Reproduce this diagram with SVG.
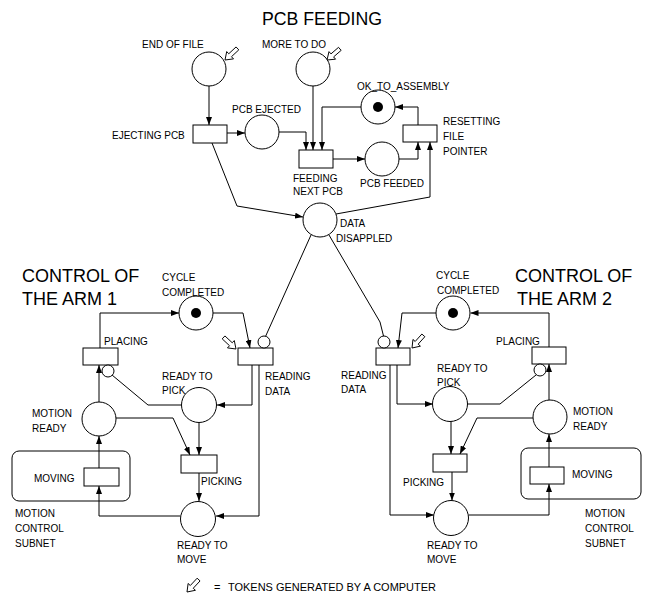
<svg xmlns="http://www.w3.org/2000/svg" width="649" height="599" viewBox="0 0 649 599">
<defs>
<style>
.t{font-family:"Liberation Sans",Arial,sans-serif;font-size:10px;fill:#000}
.big{font-family:"Liberation Sans",Arial,sans-serif;font-size:18px;fill:#000}
.p{fill:#fff;stroke:#000;stroke-width:1}
.tr{fill:#fff;stroke:#000;stroke-width:1}
.inh{fill:#fff;stroke:#000;stroke-width:1}
.tok{fill:#000}
.c{fill:none;stroke:#000;stroke-width:1}
.ca{fill:none;stroke:#000;stroke-width:1;marker-end:url(#ah)}
.sub{fill:none;stroke:#000;stroke-width:1}
.ga{fill:#fff;stroke:#000;stroke-width:0.9}
</style>
<marker id="ah" markerWidth="8" markerHeight="6" refX="8" refY="3" orient="auto" markerUnits="userSpaceOnUse">
<path d="M0,0 L8,3 L0,6 Z" fill="#000"/>
</marker>
<path id="hollow" d="M0,0 L-7,-5 L-7,-2 L-17,-2 L-17,2 L-7,2 L-7,5 Z"/>
</defs>

<rect width="649" height="599" fill="#fff"/>

<g id="connectors">
<path class="ca" d="M209,86 V125"/>
<path class="ca" d="M227,133 H245"/>
<path class="ca" d="M279,132 H306 V150"/>
<path class="ca" d="M313,86 V150"/>
<path class="ca" d="M361,107 H322 V150"/>
<path class="ca" d="M333,159 H365"/>
<path class="ca" d="M399,159 H418 V142"/>
<path class="ca" d="M418,125 V107 H395"/>
<path class="ca" d="M212,143 L237,206 L303,217"/>
<path class="ca" d="M336,214 L430,197 V142"/>
<path class="c" d="M311,235 L265.5,336.5"/>
<path class="c" d="M329,235 L380,322 L383.5,336"/>

<path class="ca" d="M100,348 V313 H179"/>
<path class="ca" d="M213,313 H243 L250,348"/>
<path class="ca" d="M252,365 V405 H217"/>
<path class="ca" d="M259,365 V516 H216"/>
<path class="c" d="M181.5,405 H148 L112,375"/>
<path class="ca" d="M99,402 V365"/>
<path class="ca" d="M116,418 H173 L190,455"/>
<path class="ca" d="M199,422.5 V455"/>
<path class="ca" d="M199,473 V501"/>
<path class="ca" d="M180.5,516 H99 V486"/>
<path class="ca" d="M99,468 V436"/>

<path class="ca" d="M549,347 V313 H470.5"/>
<path class="ca" d="M436,313 H402 L398,348"/>
<path class="ca" d="M397,365 V404 H433"/>
<path class="ca" d="M390,365 V515 H434"/>
<path class="c" d="M467,404 H500 L536,375"/>
<path class="ca" d="M549,400 V364"/>
<path class="ca" d="M533,418 H477 L460,454"/>
<path class="ca" d="M451,421 V454"/>
<path class="ca" d="M452,472 V500.5"/>
<path class="ca" d="M468.5,515 H549 V484"/>
<path class="ca" d="M549,467 V434"/>
</g>

<text class="big" x="262" y="25" textLength="120" lengthAdjust="spacingAndGlyphs">PCB FEEDING</text>

<g id="end_of_file">
<circle class="p" cx="209" cy="69" r="17"/>
<text class="t" x="142" y="48">END OF FILE</text>
<use href="#hollow" class="ga" transform="translate(225,60) rotate(137)"/>
</g>
<g id="more_to_do">
<circle class="p" cx="313" cy="69" r="17"/>
<text class="t" x="262" y="48">MORE TO DO</text>
<use href="#hollow" class="ga" transform="translate(327,60) rotate(139)"/>
</g>
<g id="ok_to_assembly">
<circle class="p" cx="378" cy="107" r="17"/>
<circle class="tok" cx="378" cy="107" r="5"/>
<text class="t" x="357" y="90">OK_TO_ASSEMBLY</text>
</g>
<g id="ejecting_pcb">
<rect class="tr" x="193" y="125" width="34" height="18"/>
<text class="t" x="112" y="139">EJECTING PCB</text>
</g>
<g id="pcb_ejected">
<circle class="p" cx="262" cy="132" r="17"/>
<text class="t" x="232" y="113">PCB EJECTED</text>
</g>
<g id="feeding_next_pcb">
<rect class="tr" x="299" y="150" width="34" height="18"/>
<text class="t" x="293" y="182">FEEDING</text>
<text class="t" x="293" y="195">NEXT PCB</text>
</g>
<g id="pcb_feeded">
<circle class="p" cx="382" cy="159" r="17"/>
<text class="t" x="360" y="187">PCB FEEDED</text>
</g>
<g id="resetting_file_pointer">
<rect class="tr" x="403" y="125" width="34" height="17"/>
<text class="t" x="443" y="125">RESETTING</text>
<text class="t" x="443" y="140">FILE</text>
<text class="t" x="443" y="155">POINTER</text>
</g>
<g id="data_disppled">
<circle class="p" cx="320" cy="220" r="17"/>
<text class="t" x="340" y="227">DATA</text>
<text class="t" x="336" y="242">DISAPPLED</text>
</g>

<text class="big" x="22" y="282">CONTROL OF</text>
<text class="big" x="22" y="305">THE ARM 1</text>

<g id="cycle_completed_1">
<circle class="p" cx="196" cy="313" r="17"/>
<circle class="tok" cx="196" cy="313" r="5"/>
<text class="t" x="162" y="281">CYCLE</text>
<text class="t" x="162" y="296">COMPLETED</text>
</g>
<g id="placing_1">
<rect class="tr" x="83" y="348" width="35" height="17"/>
<circle class="inh" cx="108" cy="371" r="6"/>
<text class="t" x="104" y="345">PLACING</text>
</g>
<g id="reading_data_1">
<rect class="tr" x="238" y="348" width="35" height="17"/>
<circle class="inh" cx="264" cy="342" r="6"/>
<use href="#hollow" class="ga" transform="translate(236,349) rotate(43)"/>
<text class="t" x="265" y="380">READING</text>
<text class="t" x="265" y="395">DATA</text>
</g>
<g id="ready_to_pick_1">
<circle class="p" cx="199" cy="405" r="17.5"/>
<text class="t" x="162" y="380">READY TO</text>
<text class="t" x="162" y="394">PICK</text>
</g>
<g id="motion_ready_1">
<circle class="p" cx="99" cy="419" r="17"/>
<text class="t" x="32" y="417">MOTION</text>
<text class="t" x="32" y="432">READY</text>
</g>
<g id="picking_1">
<rect class="tr" x="181" y="455" width="36" height="18"/>
<text class="t" x="201" y="485">PICKING</text>
</g>
<g id="motion_control_subnet_1">
<rect class="sub" x="12" y="451" width="118" height="50" rx="7"/>
<rect class="tr" x="84" y="468" width="35" height="18"/>
<text class="t" x="34" y="482">MOVING</text>
<text class="t" x="15" y="517">MOTION</text>
<text class="t" x="15" y="532">CONTROL</text>
<text class="t" x="15" y="547">SUBNET</text>
</g>
<g id="ready_to_move_1">
<circle class="p" cx="198" cy="519" r="17.5"/>
<text class="t" x="177" y="549">READY TO</text>
<text class="t" x="177" y="563">MOVE</text>
</g>

<text class="big" x="515" y="282">CONTROL OF</text>
<text class="big" x="517" y="305">THE ARM 2</text>

<g id="cycle_completed_2">
<circle class="p" cx="453" cy="313" r="17"/>
<circle class="tok" cx="453" cy="313" r="5"/>
<text class="t" x="436" y="279">CYCLE</text>
<text class="t" x="437" y="294">COMPLETED</text>
</g>
<g id="reading_data_2">
<rect class="tr" x="376" y="348" width="34" height="17"/>
<circle class="inh" cx="384" cy="342" r="6"/>
<use href="#hollow" class="ga" transform="translate(412,348) rotate(132)"/>
<text class="t" x="341" y="379">READING</text>
<text class="t" x="341" y="393">DATA</text>
</g>
<g id="placing_2">
<rect class="tr" x="532" y="347" width="34" height="17"/>
<circle class="inh" cx="540" cy="370" r="6"/>
<text class="t" x="496" y="345">PLACING</text>
</g>
<g id="ready_to_pick_2">
<circle class="p" cx="450" cy="404" r="17.5"/>
<text class="t" x="437" y="372">READY TO</text>
<text class="t" x="437" y="386">PICK</text>
</g>
<g id="motion_ready_2">
<circle class="p" cx="550" cy="417" r="17"/>
<text class="t" x="573" y="415">MOTION</text>
<text class="t" x="573" y="430">READY</text>
</g>
<g id="picking_2">
<rect class="tr" x="433" y="454" width="34" height="18"/>
<text class="t" x="403" y="486">PICKING</text>
</g>
<g id="motion_control_subnet_2">
<rect class="sub" x="521" y="448" width="120" height="51" rx="7"/>
<rect class="tr" x="530" y="467" width="34" height="17"/>
<text class="t" x="572" y="478">MOVING</text>
<text class="t" x="585" y="517">MOTION</text>
<text class="t" x="585" y="532">CONTROL</text>
<text class="t" x="585" y="547">SUBNET</text>
</g>
<g id="ready_to_move_2">
<circle class="p" cx="451" cy="518" r="17.5"/>
<text class="t" x="427" y="549">READY TO</text>
<text class="t" x="427" y="563">MOVE</text>
</g>

<g id="legend">
<use href="#hollow" class="ga" transform="translate(187,592) rotate(133)"/>
<text class="t" x="214" y="591" style="font-size:11px">=</text>
<text class="t" x="228" y="591" style="font-size:11px" textLength="208" lengthAdjust="spacingAndGlyphs">TOKENS GENERATED BY A COMPUTER</text>
</g>
</svg>
